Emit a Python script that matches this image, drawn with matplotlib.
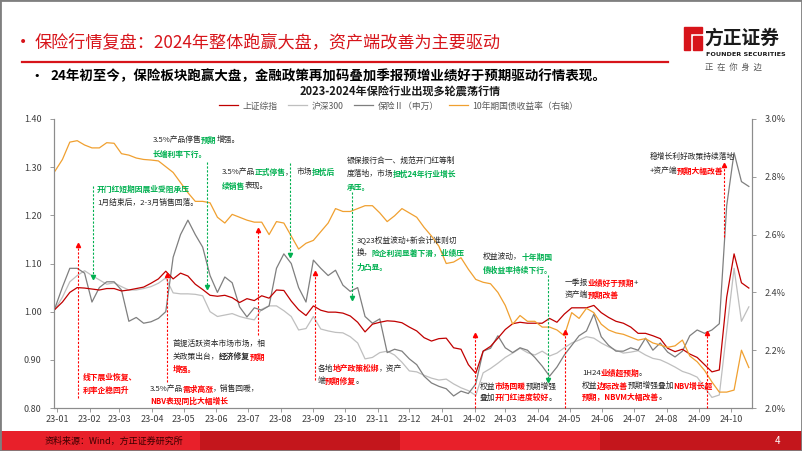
import re
import pandas as pd
import matplotlib
matplotlib.use('Agg')
import matplotlib.pyplot as plt
import matplotlib.dates as mdates
from matplotlib.lines import Line2D
from matplotlib.patches import Rectangle, Polygon
from matplotlib.ticker import FuncFormatter, MultipleLocator

plt.rcParams['font.family'] = ['Noto Sans CJK SC', 'DejaVu Sans']
plt.rcParams['axes.unicode_minus'] = False

# weekly closes, normalised to the first week of 2023 (left axis)
sh_index = [1.005, 1.02, 1.04, 1.05, 1.049, 1.047, 1.045, 1.048, 1.048, 1.043,
            1.045, 1.048, 1.051, 1.059, 1.068, 1.084, 1.068, 1.080, 1.074, 1.057,
            1.046, 1.034, 1.032, 1.034, 1.029, 1.019, 1.027, 1.023, 1.033, 1.028,
            1.045, 1.044, 1.022, 1.004, 0.992, 1.012, 1.003, 0.999, 0.999, 0.997,
            0.991, 0.978, 0.958, 0.974, 0.978, 0.981, 0.980, 0.977, 0.968, 0.960,
            0.946, 0.939, 0.944, 0.945, 0.925, 0.922, 0.890, 0.872, 0.918, 0.928,
            0.945, 0.963, 0.975, 0.978, 0.976, 0.976, 0.976, 0.986, 0.978, 0.995,
            1.008, 1.008, 1.008, 1.013, 0.998, 0.988, 0.980, 0.976, 0.968, 0.955,
            0.955, 0.950, 0.944, 0.924, 0.917, 0.922, 0.912, 0.905, 0.890, 0.875,
            0.879, 1.03, 1.12, 1.06, 1.049]
hs300 = [1.005, 1.03, 1.062, 1.075, 1.085, 1.075, 1.066, 1.057, 1.06, 1.052,
         1.045, 1.045, 1.048, 1.052, 1.059, 1.07, 1.039, 1.037, 1.037, 1.036,
         1.033, 1.0, 0.99, 0.993, 0.996, 0.99, 0.986, 0.983, 1.005, 1.012,
         1.012, 1.002, 0.99, 0.962, 0.965, 0.99, 0.964, 0.96, 0.957, 0.956,
         0.948, 0.935, 0.902, 0.905, 0.915, 0.918, 0.91, 0.895, 0.877, 0.875,
         0.868, 0.862, 0.858, 0.86, 0.85, 0.842, 0.836, 0.826, 0.873, 0.882,
         0.893, 0.905, 0.914, 0.924, 0.915, 0.910, 0.918, 0.908, 0.914, 0.925,
         0.935, 0.941, 0.948, 0.945, 0.935, 0.927, 0.92, 0.914, 0.916, 0.919,
         0.910, 0.903, 0.9, 0.893, 0.885, 0.876, 0.871, 0.864, 0.843, 0.822,
         0.827, 0.96, 1.09, 0.98, 1.01]
insurance = [1.008, 1.051, 1.09, 1.09, 1.08, 1.02, 1.05, 1.062, 1.062, 1.045,
             0.98, 0.988, 0.976, 0.979, 0.986, 1.0, 1.113, 1.16, 1.19, 1.16,
             1.134, 1.075, 1.04, 1.072, 1.06, 1.01, 0.989, 1.008, 1.003, 1.012,
             1.09, 1.12, 1.10, 1.05, 1.02, 1.107, 1.09, 1.075, 1.086, 1.055,
             1.042, 1.05, 0.99, 0.976, 0.985, 0.915, 0.922, 0.918, 0.902, 0.89,
             0.866, 0.852, 0.845, 0.84, 0.825, 0.835, 0.83, 0.85, 0.918, 0.924,
             0.95, 0.925, 0.915, 0.925, 0.92, 0.905, 0.887, 0.866, 0.885, 0.91,
             0.93, 0.95, 0.96, 0.995, 0.948, 0.93, 0.918, 0.918, 0.925, 0.92,
             0.945, 0.92, 0.935, 0.916, 0.906, 0.918, 0.95, 0.962, 0.955, 0.962,
             0.975, 1.22, 1.33, 1.27, 1.26]
# 10y CGB yield, % (right axis)
cgb10y = [2.82, 2.86, 2.92, 2.925, 2.91, 2.90, 2.90, 2.918, 2.916, 2.88,
          2.875, 2.865, 2.86, 2.858, 2.855, 2.835, 2.815, 2.78, 2.745, 2.715,
          2.715, 2.71, 2.66, 2.64, 2.67, 2.66, 2.65, 2.643, 2.643, 2.60,
          2.645, 2.64, 2.595, 2.55, 2.57, 2.58, 2.61, 2.64, 2.69, 2.68,
          2.68, 2.69, 2.70, 2.70, 2.675, 2.645, 2.665, 2.69, 2.675, 2.66,
          2.625, 2.595, 2.56, 2.50, 2.505, 2.52, 2.48, 2.445, 2.435, 2.43,
          2.40, 2.355, 2.29, 2.32, 2.30, 2.30, 2.28, 2.28, 2.27, 2.25,
          2.33, 2.31, 2.345, 2.33, 2.29, 2.27, 2.26, 2.255, 2.245, 2.235,
          2.24, 2.225, 2.218, 2.21, 2.215, 2.235, 2.18, 2.16, 2.13, 2.09,
          2.055, 2.055, 2.062, 2.20, 2.14]
dates = pd.date_range('2022-12-30', periods=len(sh_index), freq='W-FRI')
names = ['上证综指', '沪深300', '保险Ⅱ（申万）', '10年期国债收益率（右轴）']

RED = '#FF0000'
GREEN = '#00B050'
BRAND = '#D7141A'
TXT = '#262626'

W, H = 802, 451
fig = plt.figure(figsize=(W / 100, H / 100), dpi=100)


def fx(x):
    return x / W


def fy(y):
    return 1 - y / H


# ---- chart ----
ax = fig.add_axes([fx(54), fy(408), fx(752) - fx(54), fy(119) - fy(408)])
ax2 = ax.twinx()
l1, = ax.plot(dates, sh_index, color='#C00000', lw=0.9, zorder=4)
l2, = ax.plot(dates, hs300, color='#BFBFBF', lw=0.9, zorder=2)
l3, = ax.plot(dates, insurance, color='#7F7F7F', lw=0.9, zorder=3)
l4, = ax2.plot(dates, cgb10y, color='#F0A030', lw=0.9)

ax.set_xlim(pd.Timestamp('2022-12-29'), pd.Timestamp('2024-10-21'))
ax.set_ylim(0.8, 1.4)
ax2.set_ylim(2.0, 3.0)
ax.yaxis.set_major_locator(MultipleLocator(0.1))
ax.yaxis.set_major_formatter(FuncFormatter(lambda v, p: f'{v:.2f}'))
ax2.yaxis.set_major_locator(MultipleLocator(0.2))
ax2.yaxis.set_major_formatter(FuncFormatter(lambda v, p: f'{v:.1f}%'))
ax.xaxis.set_major_locator(mdates.MonthLocator())
ax.xaxis.set_major_formatter(mdates.DateFormatter('%y-%m'))

for a in (ax, ax2):
    a.spines['top'].set_visible(False)
    for s in ('left', 'right', 'bottom'):
        a.spines[s].set_color('#8C8C8C')
        a.spines[s].set_linewidth(0.8)
    a.tick_params(labelsize=6.5, labelcolor='#404040', color='#8C8C8C',
                  length=3, width=0.6, pad=2)
ax.tick_params(axis='y', pad=6)
ax2.tick_params(axis='y', pad=6)

fig.legend([l1, l2, l3, l4], names, loc='center', ncol=4,
           bbox_to_anchor=(0.497, fy(106)), frameon=False, fontsize=6.3,
           handlelength=2.2, handletextpad=0.5, columnspacing=1.2,
           labelcolor='#595959')

# ---- header ----
fig.text(fx(19), fy(42), '•', color=BRAND, fontsize=10, va='center',
         family='DejaVu Sans')
fig.text(fx(35), fy(42), '保险行情复盘：2024年整体跑赢大盘，资产端改善为主要驱动',
         color=BRAND, fontsize=12.3, va='center')
fig.add_artist(Line2D([fx(22), fx(668)], [fy(62), fy(62)], color=BRAND, lw=1.6))
fig.text(fx(33), fy(76), '•', color='black', fontsize=8, va='center',
         family='DejaVu Sans')
fig.text(fx(50), fy(76), '24年初至今，保险板块跑赢大盘，金融政策再加码叠加季报预增业绩好于预期驱动行情表现。',
         color='black', fontsize=9.7, fontweight='bold', va='center')
fig.text(fx(400), fy(92), '2023-2024年保险行业出现多轮震荡行情', ha='center',
         va='center', fontsize=8, fontweight='bold', color='#1a1a1a')

# logo
fig.add_artist(Polygon([(fx(684), fy(27)), (fx(702), fy(27)), (fx(702), fy(33)),
                        (fx(690), fy(33)), (fx(690), fy(50)), (fx(684), fy(50))],
                       closed=True, color=BRAND))
fig.add_artist(Polygon([(fx(693), fy(36)), (fx(702), fy(36)), (fx(702), fy(50)),
                        (fx(693), fy(50))], closed=True, color=BRAND))
fig.text(fx(704), fy(38), '方正证券', fontsize=13.5, fontweight='bold', va='center', color='#1a1a1a')
fig.text(fx(706), fy(54), 'FOUNDER SECURITIES', fontsize=4.6, fontweight='bold', va='center',
         color='#1a1a1a', family='DejaVu Sans')
fig.text(fx(705), fy(67), '正  在  你  身  边', fontsize=6, va='center', color='#595959')

# ---- footer ----
band_h = (H - 431) / H
for x0, x1, c in [(0, 200, '#E8202A'), (200, 400, '#C4161C'),
                  (400, 600, '#E8202A'), (600, 802, '#C4161C')]:
    fig.add_artist(Rectangle((fx(x0), 0), fx(x1) - fx(x0), band_h,
                             transform=fig.transFigure, color=c, lw=0))
fig.text(fx(45), fy(441), '资料来源：Wind，方正证券研究所', fontsize=6.5,
         color='#3A0000', va='center', style='italic')
fig.text(fx(775), fy(441), '4', fontsize=7, color='white', va='center')
fig.add_artist(Rectangle((0, 0), 1, 1, transform=fig.transFigure, fill=False,
                         ec='#7F7F7F', lw=2))

# ---- annotations ----
renderer = fig.canvas.get_renderer()
STYLE = {'g': (GREEN, 'bold'), 'r': (RED, 'bold'), 'b': (TXT, 'bold')}


def rich(x, y, markup, size=5.6):
    cx = x
    for key, inner, plain in re.findall(r'\[([grb])(.*?)\]|([^\[]+)', markup):
        s = inner if key else plain
        color, weight = STYLE[key] if key else (TXT, 'normal')
        t = fig.text(cx / W, fy(y), s, color=color, fontweight=weight,
                     fontsize=size, va='center', ha='left')
        cx = t.get_window_extent(renderer).x1 - 0.5


def arrow(x, y0, y1, color):
    fig.add_artist(Line2D([fx(x)] * 2, [fy(y0), fy(y1)], color=color,
                          lw=0.8, ls=(0, (2, 1.5))))
    fig.add_artist(Line2D([fx(x)], [fy(y1)], marker='^' if y1 < y0 else 'v',
                          color=color, ms=3, ls='none'))


arrow(78, 398, 245, RED)
arrow(93, 186, 277, GREEN)
arrow(167, 382, 275, RED)
arrow(207, 162, 287, GREEN)
arrow(290, 163, 255, GREEN)
arrow(258, 335, 230, RED)
arrow(352, 192, 298, GREEN)
arrow(315, 380, 273, RED)
arrow(475, 408, 335, RED)
arrow(548, 275, 380, GREEN)
arrow(565, 408, 332, RED)
arrow(707, 408, 333, RED)
arrow(724, 237, 165, RED)

notes = [
    (83, 377, '[r线下展业恢复、]'),
    (83, 390, '[r利率企稳回升]'),
    (97, 189, '[g开门红短期因展业受阻承压]'),
    (97, 203, '1月结束后，2-3月销售回落。'),
    (150, 389, '3.5%产品[r需求高涨]，销售回暖，'),
    (150, 401, '[rNBV表现同比大幅增长]'),
    (153, 140, '3.5%产品停售[g预期]增强。'),
    (153, 154, '[g长端利率下行。]'),
    (222, 172, '3.5%产品[g正式停售]，'),
    (297, 172, '市场[g担忧后]'),
    (222, 186, '[g续销售]表现。'),
    (173, 344, '首提活跃资本市场市场，相'),
    (173, 357, '关政策出台，[b经济修复][r预期]'),
    (173, 369, '[r增强。]'),
    (347, 161, '银保报行合一、规范开门红等制'),
    (347, 174, '度落地，市场[g担忧24年行业增长]'),
    (347, 187, '[g承压。]'),
    (357, 240, '3Q23权益波动+新会计准则切'),
    (357, 253, '换，[g险企利润显著下滑，业绩压]'),
    (357, 267, '[g力凸显。]'),
    (318, 369, '各地[r地产政策松绑]，资产'),
    (318, 381, '端[r预期修复]。'),
    (480, 387, '权益[r市场回暖]预期增强'),
    (480, 398, '叠加[r开门红进度较好]。'),
    (483, 257, '权益波动，[g十年期国]'),
    (483, 270, '[g债收益率持续下行。]'),
    (565, 283, '一季报[r业绩好于预期]+'),
    (565, 295, '资产端[r预期改善]'),
    (582, 373, '1H24[r业绩超预期]。'),
    (582, 386, '权益[r边际改善]预期增强叠加[rNBV增长超]'),
    (582, 397, '[r预期，NBVM大幅改善]。'),
    (650, 157, '稳增长利好政策持续落地'),
    (650, 171, '+资产端[r预期大幅改善]'),
]
for x, y, m in notes:
    rich(x, y, m)

fig.savefig('out.png', dpi=100)
